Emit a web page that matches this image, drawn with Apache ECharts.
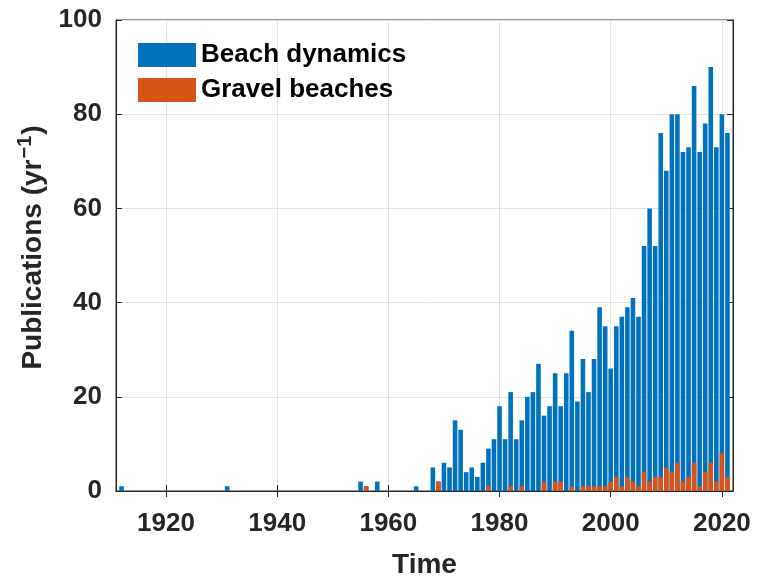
<!DOCTYPE html>
<html>
<head>
<meta charset="utf-8">
<script src="https://cdn.jsdelivr.net/npm/echarts@6/dist/echarts.min.js"></script>
<style>
  html, body { margin: 0; padding: 0; background: #fff; }
  #main { width: 757px; height: 576px; }
</style>
</head>
<body>
<div id="main"></div>
<script>
// data, one value per year from firstYear
var firstYear = 1912;
var beachDynamics = [
  1,
  0, 0, 0, 0, 0, 0, 0, 0, 0, 0, 0, 0, 0, 0, 0, 0, 0, 0,   // 1913-1930
  1,                                                      // 1931
  0, 0, 0, 0, 0, 0, 0, 0, 0, 0, 0, 0, 0, 0, 0, 0, 0, 0, 0, 0, 0, 0, 0, // 1932-1954
  2, 1, 0, 2,                                             // 1955-1958
  0, 0, 0, 0, 0, 0,                                       // 1959-1964
  1, 0, 0,                                                // 1965-1967
  5, 2, 6, 5, 15, 13, 4, 5, 3, 6, 9, 11,                  // 1968-1979
  18, 11, 21, 11, 15, 20, 21, 27, 16, 18,                 // 1980-1989
  25, 18, 25, 34, 19, 28, 21, 28, 39, 35,                 // 1990-1999
  26, 35, 37, 39, 41, 37, 52, 60, 52, 76,                 // 2000-2009
  68, 80, 80, 72, 73, 86, 72, 78, 90, 73,                 // 2010-2019
  80, 76                                                  // 2020-2021
];
var gravelBeaches = [
  0,
  0, 0, 0, 0, 0, 0, 0, 0, 0, 0, 0, 0, 0, 0, 0, 0, 0, 0,
  0,
  0, 0, 0, 0, 0, 0, 0, 0, 0, 0, 0, 0, 0, 0, 0, 0, 0, 0, 0, 0, 0, 0, 0,
  0, 1, 0, 0,
  0, 0, 0, 0, 0, 0,
  0, 0, 0,
  0, 2, 0, 0, 0, 0, 0, 0, 0, 0, 1, 0,                     // 1968-1979
  0, 0, 1, 0, 1, 0, 0, 0, 2, 0,                           // 1980-1989
  2, 2, 0, 1, 0, 1, 1, 1, 1, 1,                           // 1990-1999
  2, 3, 1, 3, 2, 1, 4, 2, 3, 3,                           // 2000-2009
  5, 4, 6, 2, 3, 6, 1, 4, 6, 2,                           // 2010-2019
  8, 3                                                    // 2020-2021
];
var xTicks = [1920, 1940, 1960, 1980, 2000, 2020];
var seriesNames = ['Beach dynamics', 'Gravel beaches'];

function toPairs(arr) {
  return arr.map(function (v, i) { return [firstYear + i, v]; });
}

var myChart = echarts.init(document.getElementById('main'));

var font = 'Liberation Sans';
var ink = '#262626';
var gridColor = '#e2e2e2';

var option = {
  animation: false,
  backgroundColor: '#fff',
  textStyle: { fontFamily: font },
  grid: {
    left: 116, right: 24, top: 20, bottom: 85,
    outerBoundsMode: 'none',
    show: true, borderColor: ink, borderWidth: 1, backgroundColor: 'transparent'
  },
  legend: {
    data: seriesNames,
    orient: 'vertical',
    left: 133, top: 37,
    itemWidth: 58, itemHeight: 24, itemGap: 9,
    icon: 'rect',
    textStyle: { fontSize: 26, fontWeight: 'bold', color: '#000', fontFamily: font }
  },
  xAxis: [{
    type: 'value',
    min: 1911, max: 2022,
    name: 'Time',
    nameLocation: 'middle',
    nameGap: 60,
    nameTextStyle: { fontSize: 28, fontWeight: 'bold', color: ink, fontFamily: font },
    axisLine: { show: true, lineStyle: { color: ink, width: 1 } },
    axisTick: { show: true, inside: true, length: 6, customValues: xTicks, lineStyle: { color: ink } },
    axisLabel: {
      customValues: xTicks, margin: 20, fontSize: 26, fontWeight: 'bold', color: ink, fontFamily: font,
      formatter: function (v) { return String(v); }
    },
    splitLine: { show: false }
  }, {
    type: 'value',
    position: 'top',
    min: 1911, max: 2022,
    axisLine: { show: true, lineStyle: { color: ink } },
    axisTick: { show: true, inside: true, length: 6, customValues: xTicks, lineStyle: { color: ink } },
    axisLabel: { show: false },
    splitLine: { show: false }
  }],
  yAxis: [{
    type: 'value',
    min: 0, max: 100, interval: 20,
    name: 'Publications (yr{s|\u22121})',
    nameLocation: 'middle',
    nameGap: 52,
    nameTextStyle: {
      fontSize: 28, fontWeight: 'bold', color: ink, fontFamily: font,
      padding: [0, 0, 0, 16],
      rich: {
        s: { fontSize: 20, fontWeight: 'bold', color: ink, fontFamily: font, verticalAlign: 'top', padding: [0, 1, 16, 1] }
      }
    },
    axisLine: { show: true, lineStyle: { color: ink } },
    axisTick: { show: true, inside: true, length: 6, lineStyle: { color: ink } },
    axisLabel: { margin: 14, fontSize: 26, fontWeight: 'bold', color: ink, fontFamily: font },
    splitLine: { show: true, lineStyle: { color: gridColor } }
  }, {
    type: 'value',
    position: 'right',
    min: 0, max: 100, interval: 20,
    axisLine: { show: true, lineStyle: { color: ink } },
    axisTick: { show: true, inside: true, length: 6, lineStyle: { color: ink } },
    axisLabel: { show: false },
    splitLine: { show: false }
  }],
  series: [{
    // vertical grid lines at the x ticks, kept under the bars
    type: 'line',
    xAxisIndex: 0, yAxisIndex: 0,
    data: [],
    z: 0,
    silent: true,
    markLine: {
      z: 0,
      silent: true,
      symbol: 'none',
      label: { show: false },
      emphasis: { disabled: true },
      lineStyle: { color: gridColor, type: 'solid', width: 1 },
      data: xTicks.map(function (t) { return { xAxis: t }; })
    }
  }, {
    name: seriesNames[0],
    type: 'bar',
    xAxisIndex: 0, yAxisIndex: 0,
    barWidth: 4.6,
    barGap: '-100%',
    z: 2,
    itemStyle: { color: '#0072BD' },
    data: toPairs(beachDynamics)
  }, {
    name: seriesNames[1],
    type: 'bar',
    xAxisIndex: 0, yAxisIndex: 0,
    barWidth: 4.6,
    barGap: '-100%',
    z: 3,
    itemStyle: { color: '#D95319' },
    data: toPairs(gravelBeaches)
  }]
};

myChart.setOption(option);
</script>
</body>
</html>
